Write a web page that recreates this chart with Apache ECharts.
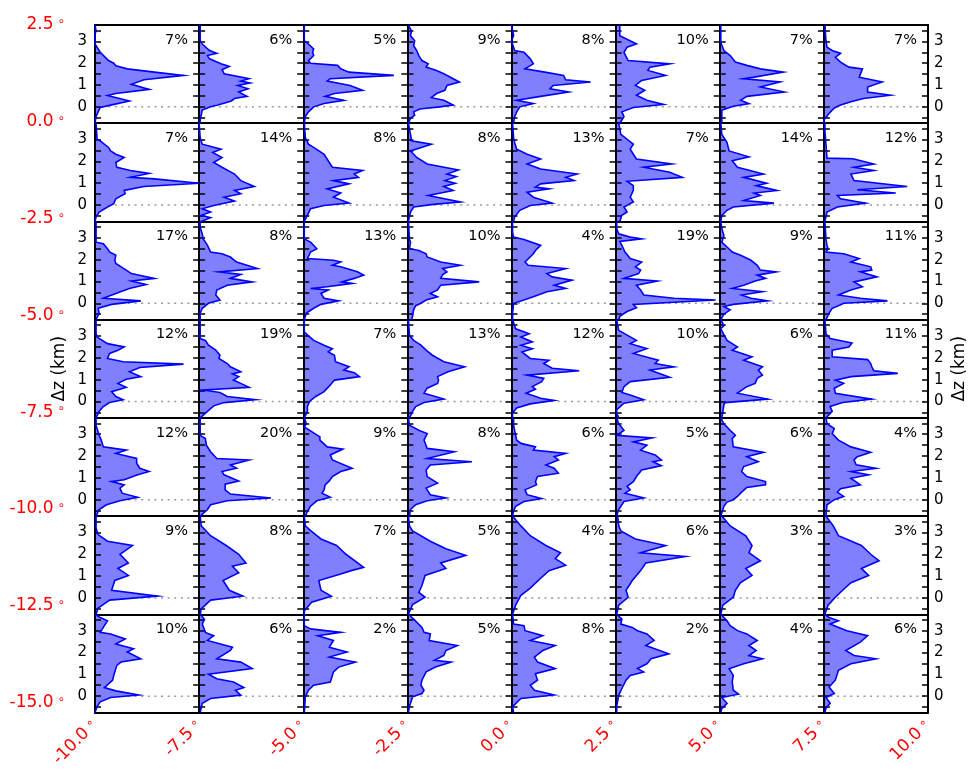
<!DOCTYPE html>
<html>
<head>
<meta charset="utf-8">
<script src="https://cdn.jsdelivr.net/npm/echarts@6/dist/echarts.min.js"></script>
<style>
  html, body { margin: 0; padding: 0; background: #fff; }
  #chart { width: 968px; height: 770px; }
</style>
</head>
<body>
<div id="chart"></div>
<script>
// Vertical profiles of relative frequency (x, % of panel scale) against height Δz (km),
// one panel per 2.5° x 2.5° box. Each profile is a list of [frequency, Δz] vertices.
const lonTicks = [-10, -7.5, -5, -2.5, 0, 2.5, 5, 7.5, 10];
const latTicks = [2.5, 0, -2.5, -5, -7.5, -10, -12.5, -15];
const heightLabels = [0, 1, 2, 3];
const heightTicks = [-0.5, 0, 0.5, 1, 1.5, 2, 2.5, 3, 3.5];

const percents = [
  [7, 6, 5, 9, 8, 10, 7, 7],
  [7, 14, 8, 8, 13, 7, 14, 12],
  [17, 8, 13, 10, 4, 19, 9, 11],
  [12, 19, 7, 13, 12, 10, 6, 11],
  [12, 20, 9, 8, 6, 5, 6, 4],
  [9, 8, 7, 5, 4, 6, 3, 3],
  [10, 6, 2, 5, 8, 2, 4, 6]
];

const profilesRow1 = [
  [[0,3.75],[1,3.48],[0,3.33],[0,2.88],[2,2.73],[5,2.5],[13,2.12],[18,2.0],[20,1.88],[31,1.74],[57,1.59],[85,1.44],[47,1.24],[35,1.03],[52,0.8],[20,0.61],[12,0.52],[33,0.27],[15,0.08],[5,-0.03],[3,-0.23],[1,-0.45],[0,-0.75]],
  [[1,3.75],[1,3.03],[3,2.88],[10,2.58],[17,2.45],[8,2.35],[10,2.2],[21,1.97],[29,1.85],[22,1.7],[24,1.52],[48,1.29],[40,1.18],[49,1.09],[37,0.98],[47,0.83],[38,0.68],[46,0.48],[34,0.38],[31,0.27],[18,0.08],[11,0],[3,-0.15],[2,-0.38],[1,-0.6],[1,-0.75]],
  [[1,3.75],[1,3.03],[5,2.88],[10,2.65],[9,2.5],[10,2.35],[5,2.12],[7,2.0],[33,1.9],[36,1.74],[44,1.59],[87,1.44],[26,1.29],[23,1.18],[45,0.98],[57,0.76],[30,0.61],[21,0.48],[39,0.3],[20,0.15],[10,0],[5,-0.23],[2,-0.45],[1,-0.75]],
  [[1,3.75],[4,3.48],[3,3.26],[7,3.03],[6,2.8],[9,2.58],[11,2.35],[14,2.12],[20,1.97],[18,1.82],[28,1.67],[35,1.52],[44,1.29],[50,1.14],[38,0.98],[36,0.76],[28,0.61],[23,0.42],[35,0.3],[44,0.08],[31,0],[12,-0.1],[6,-0.23],[7,-0.38],[3,-0.53],[1,-0.75]],
  [[0,3.75],[2,3.26],[0,3.03],[3,2.58],[12,2.5],[18,2.2],[21,1.97],[13,1.74],[32,1.59],[50,1.44],[52,1.24],[76,1.14],[40,0.98],[37,0.83],[55,0.68],[28,0.48],[5,0.3],[21,0.15],[8,0],[5,-0.23],[3,-0.45],[2,-0.75]],
  [[4,3.75],[4,3.26],[20,2.88],[11,2.73],[8,2.5],[12,2.12],[52,1.97],[33,1.82],[31,1.67],[48,1.44],[25,1.21],[19,0.98],[28,0.76],[20,0.53],[30,0.3],[46,0.11],[17,-0.03],[6,-0.23],[8,-0.45],[4,-0.75]],
  [[1,3.75],[1,2.95],[2,2.88],[4,2.58],[10,2.35],[15,2.05],[26,1.9],[39,1.74],[61,1.59],[33,1.36],[23,1.29],[58,1.14],[39,0.91],[62,0.68],[26,0.48],[20,0.3],[28,0.15],[13,0.03],[2,-0.15],[2,-0.45],[2,-0.75]],
  [[1,3.75],[2,3.03],[3,2.73],[8,2.58],[16,2.45],[11,2.27],[16,2.05],[24,1.82],[37,1.74],[34,1.36],[56,1.14],[42,0.91],[42,0.68],[64,0.53],[38,0.38],[26,0.23],[16,0.08],[10,-0.05],[5,-0.3],[0,-0.6],[0,-0.75]]
];

const profilesRow2 = [
  [[1,3.75],[2,3.02],[5,2.94],[13,2.64],[15,2.48],[20,2.33],[28,2.18],[20,1.95],[21,1.73],[34,1.58],[52,1.45],[34,1.27],[57,1.2],[100,1.0],[47,0.85],[28,0.67],[29,0.52],[20,0.29],[18,0.06],[12,-0.09],[4,-0.32],[1,-0.55],[0,-0.75]],
  [[0,3.75],[1,3.09],[3,2.79],[21,2.56],[13,2.41],[22,2.18],[14,1.95],[22,1.73],[34,1.42],[40,1.12],[53,0.85],[34,0.67],[40,0.52],[24,0.36],[34,0.18],[14,-0.02],[3,-0.17],[11,-0.32],[2,-0.47],[11,-0.58],[2,-0.75]],
  [[1,3.75],[2,3.09],[5,2.79],[10,2.64],[20,2.33],[25,1.95],[28,1.73],[57,1.58],[49,1.42],[53,1.27],[29,1.12],[44,0.97],[23,0.74],[36,0.55],[29,0.36],[44,0.09],[20,-0.02],[7,-0.17],[4,-0.47],[1,-0.75]],
  [[1,3.75],[3,3.24],[4,2.94],[23,2.79],[3,2.48],[9,2.18],[19,1.88],[49,1.61],[38,1.42],[47,1.3],[36,1.12],[46,1.0],[35,0.85],[44,0.67],[20,0.44],[51,0.14],[25,0.03],[6,-0.09],[3,-0.32],[1,-0.75]],
  [[1,3.75],[2,3.09],[3,2.86],[5,2.56],[15,2.33],[28,2.11],[15,1.88],[28,1.65],[63,1.42],[52,1.27],[60,1.12],[28,0.97],[23,0.82],[36,0.74],[15,0.59],[21,0.36],[39,0.09],[18,-0.02],[8,-0.24],[3,-0.55],[2,-0.75]],
  [[3,3.75],[5,3.24],[17,2.79],[14,2.56],[17,2.33],[20,2.11],[54,1.88],[27,1.73],[52,1.5],[64,1.27],[11,1.09],[17,0.89],[17,0.67],[14,0.36],[17,0.14],[8,-0.09],[11,-0.32],[6,-0.47],[4,-0.75]],
  [[1,3.75],[2,3.24],[7,2.86],[9,2.48],[28,2.21],[12,2.03],[17,1.73],[42,1.42],[23,1.27],[45,1.0],[35,0.89],[55,0.67],[33,0.55],[39,0.44],[23,0.21],[52,0.09],[13,-0.09],[7,-0.24],[2,-0.47],[1,-0.75]],
  [[1,3.75],[1,3.39],[2,2.79],[3,2.15],[28,2.12],[48,1.88],[29,1.73],[48,1.58],[26,1.42],[29,1.12],[80,0.85],[32,0.7],[69,0.55],[13,0.44],[16,0.29],[40,0.09],[13,-0.09],[3,-0.32],[1,-0.75]]
];

const profilesRow3 = [
  [[1,3.75],[1,3.41],[1,3.18],[1,2.8],[8,2.73],[12,2.5],[14,2.35],[20,2.2],[19,1.97],[20,1.82],[30,1.52],[35,1.36],[57,1.14],[35,1.02],[49,0.86],[33,0.68],[20,0.45],[8,0.23],[44,0.11],[16,-0.05],[3,-0.23],[4,-0.45],[1,-0.75]],
  [[1,3.75],[1,3.48],[3,3.18],[4,2.95],[8,2.65],[11,2.35],[22,2.27],[30,2.12],[36,1.89],[56,1.59],[19,1.44],[40,1.32],[30,1.14],[51,0.98],[27,0.83],[17,0.61],[16,0.38],[20,0.15],[9,0],[3,-0.23],[1,-0.45],[1,-0.75]],
  [[1,3.75],[1,2.95],[7,2.8],[13,2.5],[7,2.35],[4,2.05],[29,1.97],[36,1.89],[28,1.74],[36,1.67],[52,1.44],[58,1.29],[49,1.14],[37,0.98],[47,0.91],[23,0.76],[7,0.68],[24,0.61],[17,0.45],[20,0.23],[34,0.11],[17,-0.05],[10,-0.23],[3,-0.45],[1,-0.75]],
  [[1,3.75],[2,2.95],[3,2.8],[2,2.5],[11,2.42],[18,2.27],[19,2.12],[32,1.89],[51,1.74],[34,1.59],[38,1.44],[34,1.32],[32,1.14],[69,0.98],[32,0.83],[29,0.61],[22,0.45],[29,0.3],[18,0.15],[13,0],[8,-0.11],[6,-0.3],[5,-0.6],[4,-0.75]],
  [[1,3.75],[1,3.26],[2,3.03],[12,2.92],[28,2.65],[23,2.42],[21,2.27],[13,1.89],[16,1.74],[52,1.59],[34,1.36],[39,1.21],[58,1.06],[41,0.83],[52,0.68],[34,0.53],[21,0.3],[12,0.15],[2,0],[1,-0.45],[2,-0.53],[1,-0.75]],
  [[1,3.75],[1,3.41],[3,3.18],[14,3.03],[25,2.95],[4,2.83],[6,2.65],[9,2.35],[14,2.05],[25,1.89],[19,1.67],[24,1.52],[22,1.36],[8,1.14],[40,1.02],[20,0.83],[24,0.61],[27,0.38],[56,0.23],[96,0.15],[17,-0.05],[20,-0.2],[11,-0.38],[4,-0.6],[3,-0.75]],
  [[1,3.75],[2,3.41],[4,3.1],[2,2.8],[7,2.58],[12,2.35],[20,2.2],[30,1.97],[36,1.74],[39,1.52],[54,1.44],[36,1.29],[44,1.14],[34,1.02],[23,0.83],[12,0.68],[41,0.53],[21,0.38],[30,0.23],[46,0.11],[13,-0.05],[4,-0.15],[10,-0.3],[4,-0.5],[1,-0.75]],
  [[1,3.75],[2,2.95],[3,2.65],[4,2.5],[2,2.35],[19,2.27],[34,2.05],[26,1.89],[45,1.67],[46,1.52],[35,1.44],[51,1.21],[29,0.98],[37,0.76],[26,0.61],[14,0.38],[35,0.23],[61,0.11],[19,0],[14,-0.11],[8,-0.23],[5,-0.45],[2,-0.75]]
];

const profilesRow4 = [
  [[1,3.75],[1,3.1],[2,2.95],[12,2.65],[28,2.5],[22,2.35],[14,2.2],[12,1.97],[27,1.82],[85,1.71],[43,1.56],[33,1.36],[44,1.14],[30,1.02],[22,0.83],[30,0.65],[16,0.45],[20,0.23],[27,0.08],[14,-0.05],[8,-0.23],[4,-0.45],[1,-0.75]],
  [[1,3.75],[1,2.88],[6,2.8],[9,2.58],[16,2.35],[20,2.12],[19,1.97],[27,1.74],[30,1.59],[40,1.36],[32,1.26],[38,1.14],[33,0.98],[40,0.83],[48,0.65],[4,0.53],[20,0.41],[27,0.23],[54,0.08],[24,-0.05],[14,-0.2],[8,-0.45],[1,-0.75]],
  [[1,3.75],[1,3.18],[10,2.8],[20,2.58],[28,2.42],[24,2.27],[30,2.12],[31,1.82],[44,1.59],[39,1.44],[49,1.32],[54,1.14],[30,0.98],[26,0.76],[20,0.45],[12,0.23],[6,0],[4,-0.23],[4,-0.45],[1,-0.75]],
  [[1,3.75],[2,3.03],[6,2.8],[13,2.58],[18,2.35],[24,2.12],[35,1.82],[55,1.59],[39,1.36],[29,1.14],[30,0.98],[29,0.83],[19,0.61],[16,0.38],[35,0.11],[16,-0.05],[8,-0.23],[5,-0.45],[2,-0.75]],
  [[1,3.75],[4,3.33],[17,3.1],[9,2.95],[20,2.73],[9,2.58],[20,2.42],[10,2.27],[18,1.97],[36,1.89],[31,1.74],[39,1.52],[65,1.41],[15,1.21],[31,1.06],[29,0.91],[20,0.68],[23,0.56],[14,0.38],[28,0.15],[41,0.05],[18,-0.11],[5,-0.3],[1,-0.53],[1,-0.75]],
  [[1,3.75],[3,3.26],[9,3.1],[20,2.8],[14,2.65],[30,2.42],[17,2.2],[41,1.89],[38,1.74],[56,1.59],[33,1.44],[52,1.11],[14,0.91],[8,0.68],[6,0.41],[14,0.3],[27,0.08],[8,-0.08],[1,-0.38],[1,-0.53],[3,-0.75]],
  [[1,3.75],[4,3.48],[1,3.33],[7,2.8],[17,2.5],[12,2.35],[31,2.05],[23,1.89],[41,1.59],[37,1.44],[41,1.21],[36,1.06],[34,0.83],[26,0.68],[17,0.38],[46,0.11],[5,-0.05],[4,-0.15],[3,-0.45],[2,-0.75]],
  [[1,3.75],[2,3.1],[6,2.88],[27,2.68],[24,2.5],[8,2.35],[8,2.05],[42,1.92],[45,1.74],[46,1.59],[48,1.41],[71,1.29],[26,1.14],[11,0.98],[19,0.83],[10,0.61],[11,0.38],[46,0.11],[18,-0.05],[6,-0.23],[8,-0.45],[2,-0.75]]
];

const profilesRow5 = [
  [[1,3.75],[1,3.41],[4,2.95],[6,2.73],[8,2.42],[30,2.27],[20,2.12],[40,1.89],[40,1.67],[43,1.44],[52,1.29],[41,1.14],[28,0.91],[16,0.83],[28,0.68],[24,0.53],[26,0.3],[41,0.11],[24,-0.05],[11,-0.23],[4,-0.45],[1,-0.75]],
  [[1,3.75],[1,2.95],[6,2.8],[7,2.5],[11,2.2],[17,1.89],[48,1.82],[30,1.59],[36,1.44],[22,1.29],[24,1.14],[38,0.86],[25,0.71],[25,0.45],[30,0.26],[69,0.08],[27,-0.05],[11,-0.23],[8,-0.45],[1,-0.75]],
  [[1,3.75],[3,3.48],[1,3.33],[16,2.88],[16,2.73],[23,2.42],[38,2.32],[26,2.05],[28,1.82],[47,1.44],[36,1.29],[28,1.06],[25,0.86],[21,0.68],[20,0.45],[18,0.3],[26,0.11],[13,-0.05],[7,-0.3],[4,-0.53],[2,-0.75]],
  [[1,3.75],[2,3.41],[11,3.18],[19,3.03],[16,2.73],[19,2.35],[45,2.2],[19,1.89],[62,1.74],[22,1.59],[18,1.36],[19,1.06],[29,0.76],[18,0.53],[22,0.23],[37,0.08],[19,-0.05],[8,-0.23],[3,-0.45],[2,-0.75]],
  [[2,3.75],[2,3.41],[4,2.95],[5,2.73],[9,2.58],[23,2.42],[21,2.27],[52,2.12],[41,1.97],[45,1.82],[33,1.59],[41,1.44],[45,1.21],[25,1.06],[23,0.83],[24,0.68],[13,0.45],[15,0.23],[29,0.05],[12,-0.08],[4,-0.3],[2,-0.53],[1,-0.75]],
  [[1,3.75],[3,3.48],[8,3.18],[1,2.95],[35,2.83],[17,2.65],[30,2.5],[24,2.27],[38,2.05],[44,1.82],[36,1.74],[44,1.56],[25,1.36],[20,1.06],[17,0.83],[11,0.61],[14,0.45],[9,0.3],[27,0.08],[8,-0.08],[3,-0.45],[1,-0.75]],
  [[1,3.75],[4,3.48],[10,3.18],[15,2.95],[12,2.8],[13,2.42],[42,2.17],[26,1.97],[37,1.74],[23,1.52],[21,1.29],[26,1.06],[44,0.83],[44,0.68],[26,0.56],[20,0.3],[17,0.15],[13,0],[7,-0.11],[4,-0.3],[1,-0.75]],
  [[2,3.75],[3,3.48],[10,3.26],[8,3.03],[14,2.73],[26,2.42],[45,2.17],[32,1.97],[29,1.82],[31,1.6],[50,1.44],[26,1.29],[43,1.14],[26,0.98],[35,0.68],[16,0.5],[13,0.35],[19,0.15],[10,0],[3,-0.23],[2,-0.75]]
];

const profilesRow6 = [
  [[1,3.75],[1,3.2],[3,2.9],[12,2.6],[36,2.4],[24,2.0],[32,1.6],[22,1.35],[32,1.03],[19,0.8],[16,0.35],[60,0.08],[14,-0.1],[3,-0.47],[1,-0.75]],
  [[1,3.75],[2,3.3],[11,2.85],[26,2.4],[38,2.0],[45,1.6],[32,1.45],[38,1.15],[23,0.8],[29,0.35],[42,0.08],[11,-0.1],[2,-0.5],[1,-0.75]],
  [[1,3.75],[2,3.3],[8,3.05],[17,2.7],[32,2.4],[41,2.0],[58,1.4],[46,1.25],[36,1.1],[15,0.8],[17,0.35],[27,0.08],[8,-0.2],[1,-0.6],[1,-0.75]],
  [[1,3.75],[2,3.3],[5,3.07],[22,2.6],[37,2.25],[56,1.95],[32,1.6],[37,1.35],[17,1.03],[14,0.57],[11,0.25],[17,0.03],[5,-0.3],[1,-0.75]],
  [[1,3.75],[9,3.3],[18,2.85],[33,2.4],[47,2.07],[42,1.8],[52,1.5],[36,1.25],[28,0.9],[18,0.45],[9,0.12],[4,-0.33],[1,-0.75]],
  [[2,3.75],[3,3.3],[5,3.07],[19,2.7],[48,2.4],[24,2.07],[67,1.9],[29,1.6],[24,1.25],[16,0.8],[10,0.35],[12,0.03],[3,-0.33],[1,-0.75]],
  [[2,3.75],[10,3.3],[25,2.85],[31,2.4],[28,2.07],[39,1.7],[25,1.35],[31,1.03],[20,0.7],[15,0.35],[13,0.03],[3,-0.33],[1,-0.75]],
  [[2,3.75],[9,3.3],[14,2.85],[36,2.4],[45,2.0],[53,1.7],[36,1.35],[43,1.03],[26,0.7],[18,0.35],[11,0.03],[4,-0.33],[1,-0.75]]
];

const profilesRow7 = [
  [[0,3.75],[5,3.6],[12,3.45],[9,3.23],[5,2.92],[15,2.85],[29,2.62],[20,2.39],[37,2.17],[31,2.02],[44,1.71],[25,1.56],[21,1.41],[20,1.26],[18,0.95],[17,0.73],[9,0.39],[20,0.24],[42,0.05],[15,-0.06],[5,-0.26],[2,-0.48],[0,-0.75]],
  [[1,3.75],[5,3.53],[3,3.3],[6,2.92],[14,2.77],[8,2.55],[32,2.24],[30,2.09],[17,1.71],[40,1.56],[51,1.26],[9,1.0],[17,0.8],[33,0.65],[43,0.39],[35,0.27],[40,0.05],[11,-0.11],[3,-0.33],[1,-0.75]],
  [[1,3.75],[1,3.23],[7,3.08],[36,2.92],[14,2.77],[29,2.55],[25,2.24],[42,2.02],[25,1.79],[50,1.56],[34,1.33],[29,1.11],[28,0.95],[26,0.65],[10,0.5],[5,0.27],[2,-0.03],[1,-0.75]],
  [[1,3.75],[6,3.53],[14,3.15],[16,2.92],[22,2.85],[21,2.55],[48,2.32],[37,2.09],[35,1.86],[26,1.64],[42,1.56],[27,1.33],[18,1.11],[14,0.73],[13,0.5],[16,0.27],[14,0.12],[5,-0.03],[2,-0.48],[1,-0.75]],
  [[1,3.75],[2,3.3],[12,3.23],[13,3.0],[30,2.77],[18,2.55],[42,2.32],[30,2.09],[22,1.79],[25,1.56],[42,1.26],[23,1.03],[25,0.73],[18,0.5],[22,0.27],[41,0.05],[9,-0.11],[1,-0.48],[2,-0.75]],
  [[1,3.75],[6,3.53],[5,3.3],[16,3.15],[21,3.0],[30,2.85],[37,2.55],[29,2.32],[51,1.94],[34,1.71],[30,1.48],[21,1.26],[27,1.11],[14,0.95],[10,0.73],[6,0.35],[3,0.05],[1,-0.48],[1,-0.75]],
  [[1,3.75],[7,3.45],[10,3.23],[17,3.0],[26,2.85],[36,2.55],[28,2.32],[35,2.09],[28,1.86],[41,1.71],[23,1.48],[9,1.26],[13,0.95],[12,0.65],[13,0.27],[18,0.09],[2,-0.06],[7,-0.33],[2,-0.56],[1,-0.75]],
  [[1,3.75],[5,3.6],[14,3.45],[6,3.3],[22,3.0],[42,2.77],[35,2.47],[21,2.09],[29,1.86],[50,1.71],[26,1.48],[14,1.18],[11,0.73],[5,0.42],[10,0.12],[2,-0.06],[6,-0.33],[2,-0.56],[1,-0.75]]
];

const profileRows = [profilesRow1, profilesRow2, profilesRow3, profilesRow4, profilesRow5, profilesRow6, profilesRow7];

// ---- layout ----
const FONT = 'DejaVu Sans';
const LEFT = 95, TOP = 25, AREA_W = 833, AREA_H = 687.5;
const NCOL = 8, NROW = 7;
const PW = AREA_W / NCOL, PH = AREA_H / NROW;
const Z_MIN = -0.75, Z_MAX = 3.75;

const grid = [], xAxis = [], yAxis = [], series = [], graphic = [];

function fillRenderer(profile) {
  return function (params, api) {
    if (params.dataIndex !== 0) return null;
    const pts = [api.coord([0, profile[0][1]])];
    profile.forEach(function (p) { pts.push(api.coord(p)); });
    pts.push(api.coord([0, profile[profile.length - 1][1]]));
    return { type: 'polygon', shape: { points: pts }, style: { fill: '#8080ff' } };
  };
}

const edgeLine = { show: true, onZero: false, lineStyle: { color: '#000', width: 2 } };

for (let r = 0; r < NROW; r++) {
  for (let c = 0; c < NCOL; c++) {
    const k = r * NCOL + c;
    const left = LEFT + c * PW, top = TOP + r * PH;
    grid.push({ left: left, top: top, width: PW, height: PH, containLabel: false });

    const xBase = { type: 'value', gridIndex: k, min: 0, max: 100, z: 5,
      axisLabel: { show: false }, axisTick: { show: false }, splitLine: { show: false },
      axisLine: edgeLine };
    xAxis.push(Object.assign({ position: 'bottom' }, xBase));
    xAxis.push(Object.assign({ position: 'top' }, xBase));

    const yBase = { type: 'value', gridIndex: k, min: Z_MIN, max: Z_MAX, z: 5,
      splitLine: { show: false }, axisLine: edgeLine,
      axisTick: { show: true, inside: true, length: 6, customValues: heightTicks,
        lineStyle: { color: '#000', width: 1.5 } } };
    yAxis.push(Object.assign({ position: 'left' }, yBase, {
      axisLabel: { show: c === 0, customValues: heightLabels, margin: 8,
        color: '#000', fontFamily: FONT, fontSize: 15 } }));
    yAxis.push(Object.assign({ position: 'right' }, yBase, {
      axisLabel: { show: c === NCOL - 1, customValues: heightLabels, margin: 6,
        color: '#000', fontFamily: FONT, fontSize: 15 } }));

    const profile = profileRows[r][c];
    const xi = 2 * k, yi = 2 * k;
    // dotted Δz = 0 reference line
    series.push({ type: 'line', xAxisIndex: xi, yAxisIndex: yi, z: 1, silent: true,
      data: [[0, 0], [100, 0]], symbol: 'none',
      lineStyle: { color: '#999', width: 1.5, type: [2, 4.6] } });
    // filled profile
    series.push({ type: 'custom', xAxisIndex: xi, yAxisIndex: yi, z: 2, silent: true,
      data: profile, renderItem: fillRenderer(profile) });
    // profile outline
    series.push({ type: 'line', xAxisIndex: xi, yAxisIndex: yi, z: 6, silent: true,
      data: profile, symbol: 'none', showSymbol: false, clip: false,
      lineStyle: { color: '#0000ff', width: 1.6, join: 'miter' } });

    graphic.push({ type: 'text', x: left + PW - 11, y: top + 15, z: 10,
      style: { text: percents[r][c] + '%', font: '14.5px "DejaVu Sans"', fill: '#000',
        textAlign: 'right', textVerticalAlign: 'middle' } });
  }
}

// outer geographic axes (red degree labels)
const outer = grid.length;
grid.push({ left: LEFT, top: TOP, width: AREA_W, height: AREA_H });
const degRich = {
  n: { color: '#ff0000', fontFamily: FONT, fontSize: 17 },
  d: { color: '#ff0000', fontFamily: FONT, fontSize: 12, padding: [0, 0, 6, 4] }
};
xAxis.push({ type: 'value', gridIndex: outer, min: -10, max: 10, position: 'bottom',
  axisLine: { show: false }, axisTick: { show: false }, splitLine: { show: false },
  axisLabel: { customValues: lonTicks, rotate: 45, margin: 20,
    formatter: function (v) { return '{n|' + v.toFixed(1) + '}{d|∘}'; }, rich: degRich } });
yAxis.push({ type: 'value', gridIndex: outer, min: -15, max: 2.5, position: 'left',
  axisLine: { show: false }, axisTick: { show: false }, splitLine: { show: false },
  axisLabel: { customValues: latTicks, margin: 30,
    formatter: function (v) { return '{n|' + v.toFixed(1) + '}{d|∘}'; }, rich: degRich } });

// Δz axis titles
const midY = TOP + 3.5 * PH;
graphic.push({ type: 'text', x: 60, y: midY, rotation: Math.PI / 2, z: 10,
  style: { text: 'Δz (km)', font: '17px "DejaVu Sans"', fill: '#000', textAlign: 'center', textVerticalAlign: 'middle' } });
graphic.push({ type: 'text', x: 960, y: midY, rotation: Math.PI / 2, z: 10,
  style: { text: 'Δz (km)', font: '17px "DejaVu Sans"', fill: '#000', textAlign: 'center', textVerticalAlign: 'middle' } });

const chart = echarts.init(document.getElementById('chart'), null, { renderer: 'canvas' });
chart.setOption({
  animation: false,
  backgroundColor: '#fff',
  textStyle: { fontFamily: FONT },
  grid: grid, xAxis: xAxis, yAxis: yAxis, series: series, graphic: graphic
});
</script>
</body>
</html>
